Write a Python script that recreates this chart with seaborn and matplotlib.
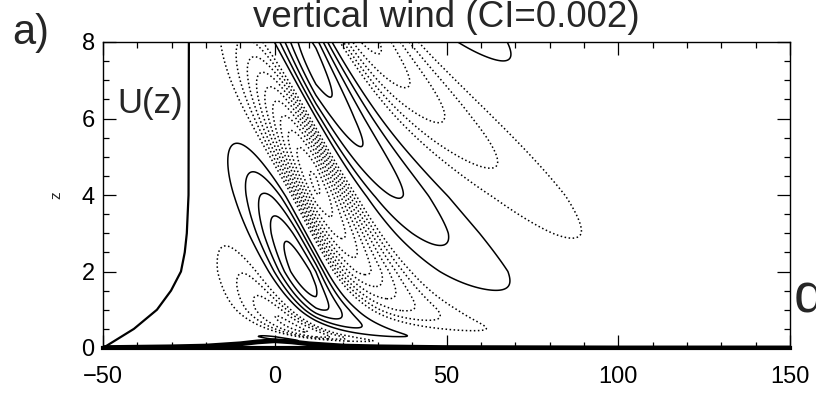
import numpy as np
import matplotlib
matplotlib.use("Agg")
import matplotlib.pyplot as plt
import seaborn as sns

# ---------------- values ----------------
x_ticks = [-50, 0, 50, 100, 150]
z_ticks = [0, 2, 4, 6, 8]
x_limits = [-50, 150]
z_limits = [0, 8]

# U(z) profile curve (drawn in x-axis units)
u_curve_z = [0.0, 0.25, 0.5, 1.0, 1.5, 2.0, 2.5, 3.0, 4.0, 8.0]
u_curve_x = [-50.0, -45.5, -41.0, -34.3, -30.2, -27.3, -26.2, -25.6, -25.1, -25.0]

# terrain line
terrain_x = [-50, -40, -30, -20, -10, -5, 0, 5, 10, 20, 30, 40, 50, 100, 150]
terrain_h = [0.01, 0.02, 0.03, 0.05, 0.11, 0.16, 0.19, 0.16, 0.11, 0.05, 0.03, 0.02, 0.01, 0.0, 0.0]

band_k_x = [-50, -10, 5, 15, 28, 38, 48, 60, 150]
band_k = [0.13, 0.13, 0.16, 0.16, 0.125, 0.098, 0.083, 0.075, 0.075]
vert_l = 1.02          # vertical wavenumber above the shear layer
shear_power = 1.8      # phase compression inside the surface shear layer
shear_eps = 0.06
max_point = (8.0, 1.8)  # centre of the small positive closed contour

amp_z = [0.0, 0.15, 0.3, 1.0, 2.0, 3.0, 4.0, 5.0, 6.0, 7.0, 8.0]
amp_a = [0.0, 0.12, 0.34, 0.68, 0.94, 1.0, 1.0, 0.95, 0.9, 0.88, 0.85]
env_xc = 12.0
env_up = 19.0
env_down = 33.0
amp_pos = 0.013
neg_boost = 1.6
contour_interval = 0.002

title_text = "vertical wind (CI=0.002)"
panel_text = "a)"
profile_text = "U(z)"
ylabel_text = "z"
edge_text = "d"

# ---------------- field computation ----------------
xs = np.linspace(x_limits[0], x_limits[1], 801)
zg = np.linspace(z_limits[0], z_limits[1], 801)
kx = np.interp(xs, band_k_x, band_k)
phi_x = np.concatenate([[0.0], np.cumsum(0.5 * (kx[1:] + kx[:-1]) * np.diff(xs))])
u = (np.interp(zg, u_curve_z, u_curve_x) + 50.0) / 25.0
dP = vert_l / (u + shear_eps) ** shear_power
dP = np.where(u >= 0.995, vert_l, dP)
phi_z = np.concatenate([[0.0], np.cumsum(0.5 * (dP[1:] + dP[:-1]) * np.diff(zg))])
phase0 = -(np.interp(max_point[0], xs, phi_x) + np.interp(max_point[1], zg, phi_z))
theta = phi_x[None, :] + phi_z[:, None] + phase0
c = np.cos(theta)
c = np.where(c < 0, neg_boost * c, c)
env_x = np.where(xs < env_xc,
                 np.exp(-((xs - env_xc) / env_up) ** 2),
                 np.exp(-(xs - env_xc) / env_down))
env_z = np.interp(zg, amp_z, amp_a)
ws = amp_pos * c * env_x[None, :] * env_z[:, None]

pos_levels = np.arange(contour_interval, 0.05, contour_interval)
neg_levels = -pos_levels[::-1]

# ---------------- drawing ----------------
sns.set_theme(style="ticks")
plt.rcParams["font.family"] = ["Liberation Sans", "DejaVu Sans"]

W, H = 816, 397
fig = plt.figure(figsize=(W / 100, H / 100), dpi=100)
ax = fig.add_axes([103 / W, 1 - 348 / H, (790 - 103) / W, (348 - 42) / H])

ax.contour(xs, zg, ws, levels=pos_levels, colors="black", linewidths=1.1, linestyles="solid")
ax.contour(xs, zg, ws, levels=neg_levels, colors="black", linewidths=1.1, linestyles="dotted")

sns.lineplot(x=u_curve_x, y=u_curve_z, sort=False, estimator=None, color="black", lw=1.6, ax=ax)
sns.lineplot(x=terrain_x, y=terrain_h, sort=False, estimator=None, color="black", lw=3.5, ax=ax)

ax.set_xlim(*x_limits)
ax.set_ylim(*z_limits)
ax.set_xticks(x_ticks)
ax.set_yticks(z_ticks)
ax.set_xticks(np.arange(-50, 151, 10), minor=True)
ax.set_yticks(np.arange(0, 8.01, 0.5), minor=True)
ax.tick_params(which="both", direction="in", top=True, right=True, colors="black", labelsize=17)
ax.tick_params(which="major", length=9.5, width=0.9)
ax.tick_params(which="minor", length=4.5, width=0.9)
ax.tick_params(axis="x", pad=13)
ax.tick_params(axis="y", pad=6)
for s in ax.spines.values():
    s.set_color("black")
    s.set_linewidth(1.0)
ax.spines["bottom"].set_linewidth(3.0)
ax.set_xlabel("")
ax.set_ylabel(ylabel_text, fontsize=11, labelpad=13)

ax.text(0.021, 0.80, profile_text, transform=ax.transAxes, fontsize=25, va="center", ha="left")
fig.text(446 / W, 1 - 27 / H, title_text, ha="center", va="baseline", fontsize=26.5)
fig.text(12 / W, 1 - 44 / H, panel_text, ha="left", va="baseline", fontsize=30)
fig.text(794 / W, 1 - 312 / H, edge_text, ha="left", va="baseline", fontsize=40)

fig.savefig("out.png", dpi=100)
